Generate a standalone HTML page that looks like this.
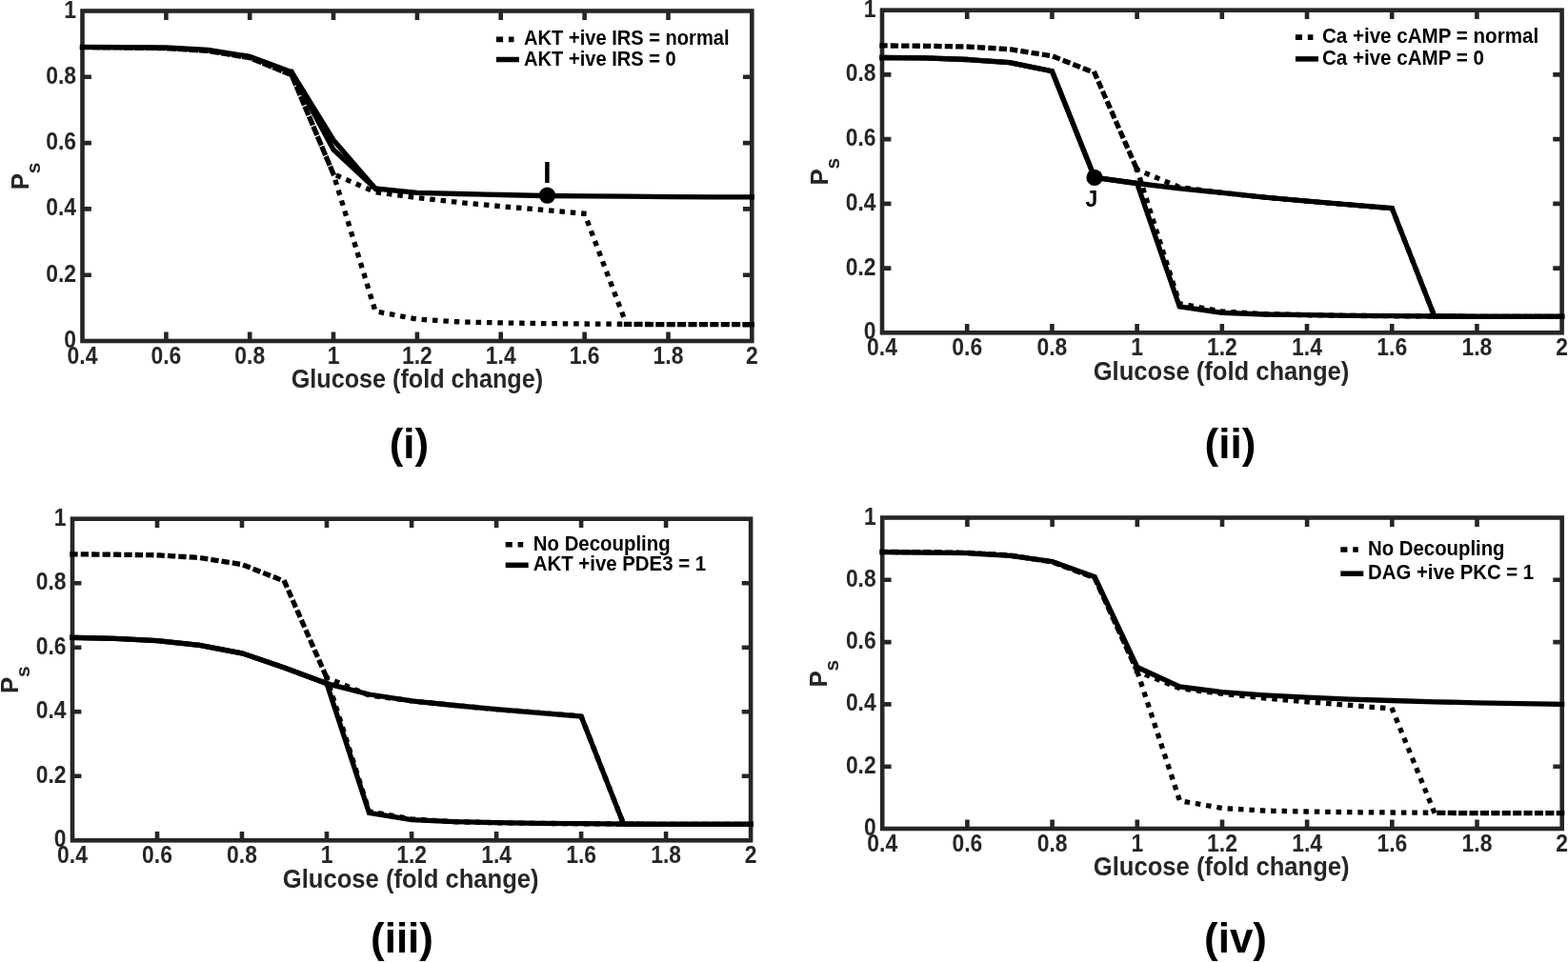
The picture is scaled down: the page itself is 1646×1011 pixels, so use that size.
<!DOCTYPE html>
<html><head><meta charset="utf-8"><title>Figure</title>
<style>
html,body{margin:0;padding:0;background:#fff;}
svg{display:block;}
text{font-family:"Liberation Sans", Arial, sans-serif;font-weight:bold;}
.tk{font-size:22.9px;fill:#262626;}
.xl{font-size:25.2px;fill:#262626;}
.yl{font-size:25.9px;fill:#262626;}
.sub{font-size:21px;fill:#262626;}
.lg{font-size:20.4px;fill:#000;}
.mk{fill:#000;}
.pl{font-size:44px;fill:#000;}
.ln{fill:none;stroke:#000;stroke-width:5.3;stroke-linecap:square;stroke-linejoin:miter;stroke-miterlimit:10;}
</style></head><body>
<svg width="1646" height="1011" viewBox="0 0 1646 1011">
<rect width="1646" height="1011" fill="#fff"/>
<rect x="86.5" y="11.5" width="702.8" height="346.5" fill="none" stroke="#262626" stroke-width="4.6"/>
<path d="M174.4 358.0V348.6M174.4 11.5V20.9M262.2 358.0V348.6M262.2 11.5V20.9M350.0 358.0V348.6M350.0 11.5V20.9M437.9 358.0V348.6M437.9 11.5V20.9M525.7 358.0V348.6M525.7 11.5V20.9M613.6 358.0V348.6M613.6 11.5V20.9M701.5 358.0V348.6M701.5 11.5V20.9M86.5 288.7H95.9M789.3 288.7H779.9M86.5 219.4H95.9M789.3 219.4H779.9M86.5 150.1H95.9M789.3 150.1H779.9M86.5 80.8H95.9M789.3 80.8H779.9" stroke="#262626" stroke-width="4.6" fill="none"/>
<text transform="translate(86.5 382.0) scale(1 1.1)" text-anchor="middle" class="tk">0.4</text>
<text transform="translate(174.4 382.0) scale(1 1.1)" text-anchor="middle" class="tk">0.6</text>
<text transform="translate(262.2 382.0) scale(1 1.1)" text-anchor="middle" class="tk">0.8</text>
<text transform="translate(350.0 382.0) scale(1 1.1)" text-anchor="middle" class="tk">1</text>
<text transform="translate(437.9 382.0) scale(1 1.1)" text-anchor="middle" class="tk">1.2</text>
<text transform="translate(525.7 382.0) scale(1 1.1)" text-anchor="middle" class="tk">1.4</text>
<text transform="translate(613.6 382.0) scale(1 1.1)" text-anchor="middle" class="tk">1.6</text>
<text transform="translate(701.5 382.0) scale(1 1.1)" text-anchor="middle" class="tk">1.8</text>
<text transform="translate(789.3 382.0) scale(1 1.1)" text-anchor="middle" class="tk">2</text>
<text transform="translate(80.0 365.0) scale(1 1.1)" text-anchor="end" class="tk">0</text>
<text transform="translate(80.0 295.7) scale(1 1.1)" text-anchor="end" class="tk">0.2</text>
<text transform="translate(80.0 226.4) scale(1 1.1)" text-anchor="end" class="tk">0.4</text>
<text transform="translate(80.0 157.1) scale(1 1.1)" text-anchor="end" class="tk">0.6</text>
<text transform="translate(80.0 87.8) scale(1 1.1)" text-anchor="end" class="tk">0.8</text>
<text transform="translate(80.0 18.5) scale(1 1.1)" text-anchor="end" class="tk">1</text>
<text transform="translate(437.9 407.4) scale(1 1.097)" text-anchor="middle" class="xl" style="font-size:25.2px">Glucose (fold change)</text>
<text transform="translate(29.9 199.3) rotate(-90)" class="yl">P</text>
<text transform="translate(41.9 182.3) rotate(-90)" class="sub">s</text>
<polyline points="86.5,49.6 130.4,50.0 174.3,50.7 218.3,53.4 262.2,60.7 306.1,78.7 350.0,182.7" class="ln" stroke-dasharray="5 6.4" stroke-dashoffset="0"/>
<polyline points="350.0,182.7 394.0,201.7 437.9,207.6 481.8,212.5 525.7,216.6 569.7,220.4 613.6,224.3 657.5,340.3" class="ln" stroke-dasharray="0.2 11.2" stroke-dashoffset="5.7"/>
<polyline points="350.0,182.7 394.0,326.8 437.9,335.1 481.8,337.9 525.7,338.9 569.7,339.6 613.6,340.0 657.5,340.3" class="ln" stroke-dasharray="0.2 11.2" stroke-dashoffset="2.45"/>
<polyline points="789.3,340.7 745.4,340.7 701.4,340.7 657.5,340.3" class="ln" stroke-dasharray="3.8 7.6" stroke-dashoffset="8.05"/>
<polyline points="782.3,340.7 789.3,340.7" class="ln"/>
<polyline points="86.5,49.3 130.4,49.6 174.3,50.0 218.3,52.4 262.2,59.3 306.1,75.6 350.0,147.0 394.0,197.9 437.9,202.4 481.8,203.5 525.7,204.5 569.7,205.5 613.6,205.9 657.5,206.2 701.4,206.6 745.4,206.9 789.3,206.9" class="ln"/>
<polyline points="306.1,75.6 350.0,157.0 394.0,197.9" class="ln"/>
<circle cx="574.5" cy="205.1" r="8.7" fill="#000"/>
<text transform="translate(574.4 192.0)" text-anchor="middle" class="mk" style="font-size:31.5px">I</text>
<path d="M521.0 41.4h7.1M533.9 41.4h5.6" stroke="#000" stroke-width="5.6"/>
<path d="M521.0 62.5h24" stroke="#000" stroke-width="5.5"/>
<text transform="translate(550.1 47.0) scale(1 1.08)" class="lg" style="font-size:20.1px">AKT +ive IRS = normal</text>
<text transform="translate(550.1 68.5) scale(1 1.08)" class="lg" style="font-size:20.1px">AKT +ive IRS = 0</text>
<rect x="926.0" y="10.7" width="713.6" height="338.6" fill="none" stroke="#262626" stroke-width="4.6"/>
<path d="M1015.2 349.3V339.9M1015.2 10.7V20.1M1104.4 349.3V339.9M1104.4 10.7V20.1M1193.6 349.3V339.9M1193.6 10.7V20.1M1282.8 349.3V339.9M1282.8 10.7V20.1M1372.0 349.3V339.9M1372.0 10.7V20.1M1461.2 349.3V339.9M1461.2 10.7V20.1M1550.4 349.3V339.9M1550.4 10.7V20.1M926.0 281.6H935.4M1639.6 281.6H1630.2M926.0 213.9H935.4M1639.6 213.9H1630.2M926.0 146.1H935.4M1639.6 146.1H1630.2M926.0 78.4H935.4M1639.6 78.4H1630.2" stroke="#262626" stroke-width="4.6" fill="none"/>
<text transform="translate(926.0 373.3) scale(1 1.1)" text-anchor="middle" class="tk">0.4</text>
<text transform="translate(1015.2 373.3) scale(1 1.1)" text-anchor="middle" class="tk">0.6</text>
<text transform="translate(1104.4 373.3) scale(1 1.1)" text-anchor="middle" class="tk">0.8</text>
<text transform="translate(1193.6 373.3) scale(1 1.1)" text-anchor="middle" class="tk">1</text>
<text transform="translate(1282.8 373.3) scale(1 1.1)" text-anchor="middle" class="tk">1.2</text>
<text transform="translate(1372.0 373.3) scale(1 1.1)" text-anchor="middle" class="tk">1.4</text>
<text transform="translate(1461.2 373.3) scale(1 1.1)" text-anchor="middle" class="tk">1.6</text>
<text transform="translate(1550.4 373.3) scale(1 1.1)" text-anchor="middle" class="tk">1.8</text>
<text transform="translate(1639.6 373.3) scale(1 1.1)" text-anchor="middle" class="tk">2</text>
<text transform="translate(919.5 356.3) scale(1 1.1)" text-anchor="end" class="tk">0</text>
<text transform="translate(919.5 288.6) scale(1 1.1)" text-anchor="end" class="tk">0.2</text>
<text transform="translate(919.5 220.9) scale(1 1.1)" text-anchor="end" class="tk">0.4</text>
<text transform="translate(919.5 153.1) scale(1 1.1)" text-anchor="end" class="tk">0.6</text>
<text transform="translate(919.5 85.4) scale(1 1.1)" text-anchor="end" class="tk">0.8</text>
<text transform="translate(919.5 17.7) scale(1 1.1)" text-anchor="end" class="tk">1</text>
<text transform="translate(1282.0 398.7) scale(1 1.097)" text-anchor="middle" class="xl" style="font-size:25.6px">Glucose (fold change)</text>
<text transform="translate(868.7 194.6) rotate(-90)" class="yl">P</text>
<text transform="translate(880.7 177.6) rotate(-90)" class="sub">s</text>
<polyline points="926.0,47.9 970.6,48.3 1015.2,49.0 1059.8,51.7 1104.4,58.8 1149.0,76.4 1193.6,178.0" class="ln" stroke-dasharray="3 8.4" stroke-dashoffset="0"/>
<polyline points="1193.6,178.0 1238.2,196.6 1282.8,202.3 1327.4,207.1 1372.0,211.2 1416.6,214.9 1461.2,218.6 1505.8,332.0" class="ln" stroke-dasharray="0.2 11.2" stroke-dashoffset="0"/>
<polyline points="1193.6,178.0 1238.2,318.8 1282.8,327.0 1327.4,329.7 1372.0,330.7 1416.6,331.4 1461.2,331.7 1505.8,332.0" class="ln" stroke-dasharray="0.2 11.2" stroke-dashoffset="0"/>
<polyline points="1639.6,332.4 1595.0,332.4 1550.4,332.4 1505.8,332.0" class="ln" stroke-dasharray="3.8 7.6" stroke-dashoffset="0"/>
<polyline points="926.0,60.5 970.6,60.8 1015.2,62.5 1059.8,65.6 1104.4,74.7 1149.0,186.4 1193.6,192.5 1238.2,197.9 1282.8,202.3 1327.4,207.1 1372.0,211.2 1416.6,214.9 1461.2,218.6 1505.8,332.0 1550.4,332.4 1595.0,332.4 1639.6,332.4" class="ln"/>
<polyline points="1639.6,332.4 1595.0,332.4 1550.4,332.4 1505.8,332.0 1461.2,331.7 1416.6,331.4 1372.0,330.7 1327.4,330.0 1282.8,328.3 1238.2,321.9 1193.6,192.5 1149.0,186.4 1104.4,74.7 1059.8,65.6 1015.2,62.5 970.6,60.8 926.0,60.5" class="ln"/>
<circle cx="1149.0" cy="186.4" r="8.6" fill="#000"/>
<text transform="translate(1146.0 217.0)" text-anchor="middle" class="mk" style="font-size:23px">J</text>
<path d="M1359.9 39.1h7.1M1372.8 39.1h5.6" stroke="#000" stroke-width="5.6"/>
<path d="M1359.9 61.9h24" stroke="#000" stroke-width="5.5"/>
<text transform="translate(1387.9 44.8) scale(1 1.08)" class="lg" style="font-size:20.6px">Ca +ive cAMP = normal</text>
<text transform="translate(1387.9 68.2) scale(1 1.08)" class="lg" style="font-size:20.6px">Ca +ive cAMP = 0</text>
<rect x="76.0" y="544.7" width="712.1" height="337.6" fill="none" stroke="#262626" stroke-width="4.6"/>
<path d="M165.0 882.3V872.9M165.0 544.7V554.1M254.0 882.3V872.9M254.0 544.7V554.1M343.0 882.3V872.9M343.0 544.7V554.1M432.1 882.3V872.9M432.1 544.7V554.1M521.1 882.3V872.9M521.1 544.7V554.1M610.1 882.3V872.9M610.1 544.7V554.1M699.1 882.3V872.9M699.1 544.7V554.1M76.0 814.8H85.4M788.1 814.8H778.7M76.0 747.3H85.4M788.1 747.3H778.7M76.0 679.7H85.4M788.1 679.7H778.7M76.0 612.2H85.4M788.1 612.2H778.7" stroke="#262626" stroke-width="4.6" fill="none"/>
<text transform="translate(76.0 906.3) scale(1 1.1)" text-anchor="middle" class="tk">0.4</text>
<text transform="translate(165.0 906.3) scale(1 1.1)" text-anchor="middle" class="tk">0.6</text>
<text transform="translate(254.0 906.3) scale(1 1.1)" text-anchor="middle" class="tk">0.8</text>
<text transform="translate(343.0 906.3) scale(1 1.1)" text-anchor="middle" class="tk">1</text>
<text transform="translate(432.1 906.3) scale(1 1.1)" text-anchor="middle" class="tk">1.2</text>
<text transform="translate(521.1 906.3) scale(1 1.1)" text-anchor="middle" class="tk">1.4</text>
<text transform="translate(610.1 906.3) scale(1 1.1)" text-anchor="middle" class="tk">1.6</text>
<text transform="translate(699.1 906.3) scale(1 1.1)" text-anchor="middle" class="tk">1.8</text>
<text transform="translate(788.1 906.3) scale(1 1.1)" text-anchor="middle" class="tk">2</text>
<text transform="translate(69.5 889.3) scale(1 1.1)" text-anchor="end" class="tk">0</text>
<text transform="translate(69.5 821.8) scale(1 1.1)" text-anchor="end" class="tk">0.2</text>
<text transform="translate(69.5 754.3) scale(1 1.1)" text-anchor="end" class="tk">0.4</text>
<text transform="translate(69.5 686.7) scale(1 1.1)" text-anchor="end" class="tk">0.6</text>
<text transform="translate(69.5 619.2) scale(1 1.1)" text-anchor="end" class="tk">0.8</text>
<text transform="translate(69.5 551.7) scale(1 1.1)" text-anchor="end" class="tk">1</text>
<text transform="translate(431.2 931.7) scale(1 1.097)" text-anchor="middle" class="xl" style="font-size:25.6px">Glucose (fold change)</text>
<text transform="translate(19.1 728.1) rotate(-90)" class="yl">P</text>
<text transform="translate(31.1 711.1) rotate(-90)" class="sub">s</text>
<polyline points="76.0,581.8 120.5,582.2 165.0,582.8 209.5,585.5 254.0,592.6 298.5,610.2 343.0,711.5" class="ln" stroke-dasharray="3 8.4" stroke-dashoffset="0"/>
<polyline points="343.0,711.5 387.5,730.0 432.0,735.8 476.6,740.5 521.1,744.6 565.6,748.3 610.1,752.0 654.6,865.1" class="ln" stroke-dasharray="0.2 11.2" stroke-dashoffset="0"/>
<polyline points="343.0,711.5 387.5,851.9 432.0,860.0 476.6,862.7 521.1,863.7 565.6,864.4 610.1,864.7 654.6,865.1" class="ln" stroke-dasharray="0.2 11.2" stroke-dashoffset="0"/>
<polyline points="788.1,865.4 743.6,865.4 699.1,865.4 654.6,865.1" class="ln" stroke-dasharray="3.8 7.6" stroke-dashoffset="0"/>
<polyline points="76.0,669.3 120.5,670.3 165.0,672.7 209.5,677.4 254.0,685.8 298.5,701.0 343.0,717.6 387.5,729.0 432.0,735.8 476.6,740.5 521.1,744.6 565.6,748.3 610.1,752.0 654.6,865.1 699.1,865.4 743.6,865.4 788.1,865.4" class="ln"/>
<polyline points="788.1,865.4 743.6,865.4 699.1,865.4 654.6,865.1 610.1,864.7 565.6,864.4 521.1,863.7 476.6,862.7 432.0,860.7 387.5,853.3 343.0,717.6 298.5,701.0 254.0,685.8 209.5,677.4 165.0,672.7 120.5,670.3 76.0,669.3" class="ln"/>
<path d="M530.7 571.8h7.1M543.6 571.8h5.6" stroke="#000" stroke-width="5.6"/>
<path d="M530.7 593.3h24" stroke="#000" stroke-width="5.5"/>
<text transform="translate(559.8 577.7) scale(1 1.08)" class="lg" style="font-size:20.4px">No Decoupling</text>
<text transform="translate(559.8 598.8) scale(1 1.08)" class="lg" style="font-size:20.4px">AKT +ive PDE3 = 1</text>
<rect x="926.2" y="543.5" width="713.5" height="326.5" fill="none" stroke="#262626" stroke-width="4.6"/>
<path d="M1015.4 870.0V860.6M1015.4 543.5V552.9M1104.6 870.0V860.6M1104.6 543.5V552.9M1193.8 870.0V860.6M1193.8 543.5V552.9M1283.0 870.0V860.6M1283.0 543.5V552.9M1372.1 870.0V860.6M1372.1 543.5V552.9M1461.3 870.0V860.6M1461.3 543.5V552.9M1550.5 870.0V860.6M1550.5 543.5V552.9M926.2 804.7H935.6M1639.7 804.7H1630.3M926.2 739.4H935.6M1639.7 739.4H1630.3M926.2 674.1H935.6M1639.7 674.1H1630.3M926.2 608.8H935.6M1639.7 608.8H1630.3" stroke="#262626" stroke-width="4.6" fill="none"/>
<text transform="translate(926.2 894.0) scale(1 1.1)" text-anchor="middle" class="tk">0.4</text>
<text transform="translate(1015.4 894.0) scale(1 1.1)" text-anchor="middle" class="tk">0.6</text>
<text transform="translate(1104.6 894.0) scale(1 1.1)" text-anchor="middle" class="tk">0.8</text>
<text transform="translate(1193.8 894.0) scale(1 1.1)" text-anchor="middle" class="tk">1</text>
<text transform="translate(1283.0 894.0) scale(1 1.1)" text-anchor="middle" class="tk">1.2</text>
<text transform="translate(1372.1 894.0) scale(1 1.1)" text-anchor="middle" class="tk">1.4</text>
<text transform="translate(1461.3 894.0) scale(1 1.1)" text-anchor="middle" class="tk">1.6</text>
<text transform="translate(1550.5 894.0) scale(1 1.1)" text-anchor="middle" class="tk">1.8</text>
<text transform="translate(1639.7 894.0) scale(1 1.1)" text-anchor="middle" class="tk">2</text>
<text transform="translate(919.7 877.0) scale(1 1.1)" text-anchor="end" class="tk">0</text>
<text transform="translate(919.7 811.7) scale(1 1.1)" text-anchor="end" class="tk">0.2</text>
<text transform="translate(919.7 746.4) scale(1 1.1)" text-anchor="end" class="tk">0.4</text>
<text transform="translate(919.7 681.1) scale(1 1.1)" text-anchor="end" class="tk">0.6</text>
<text transform="translate(919.7 615.8) scale(1 1.1)" text-anchor="end" class="tk">0.8</text>
<text transform="translate(919.7 550.5) scale(1 1.1)" text-anchor="end" class="tk">1</text>
<text transform="translate(1282.2 919.4) scale(1 1.097)" text-anchor="middle" class="xl" style="font-size:25.6px">Glucose (fold change)</text>
<text transform="translate(868.1 721.4) rotate(-90)" class="yl">P</text>
<text transform="translate(880.1 704.4) rotate(-90)" class="sub">s</text>
<polyline points="926.2,579.4 970.8,579.7 1015.4,580.4 1060.0,583.0 1104.6,589.9 1149.2,606.8 1193.8,704.8" class="ln" stroke-dasharray="3 8.4" stroke-dashoffset="0"/>
<polyline points="1193.8,704.8 1238.4,722.7 1283.0,728.3 1327.5,732.9 1372.1,736.8 1416.7,740.4 1461.3,744.0 1505.9,853.3" class="ln" stroke-dasharray="0.2 11.2" stroke-dashoffset="0"/>
<polyline points="1193.8,704.8 1238.4,840.6 1283.0,848.5 1327.5,851.1 1372.1,852.0 1416.7,852.7 1461.3,853.0 1505.9,853.3" class="ln" stroke-dasharray="0.2 11.2" stroke-dashoffset="8.7"/>
<polyline points="1639.7,853.7 1595.1,853.7 1550.5,853.7 1505.9,853.3" class="ln" stroke-dasharray="3.8 7.6" stroke-dashoffset="0.45"/>
<polyline points="926.2,579.7 970.8,580.1 1015.4,580.7 1060.0,583.3 1104.6,589.5 1149.2,605.5 1193.8,700.5 1238.4,720.8 1283.0,726.7 1327.5,729.9 1372.1,732.2 1416.7,734.2 1461.3,735.5 1505.9,736.8 1550.5,737.8 1595.1,738.7 1639.7,739.4" class="ln"/>
<path d="M1407.3 577.0h7.1M1420.2 577.0h5.6" stroke="#000" stroke-width="5.6"/>
<path d="M1407.3 602.2h24" stroke="#000" stroke-width="5.5"/>
<text transform="translate(1436.1 582.6) scale(1 1.08)" class="lg" style="font-size:20.35px">No Decoupling</text>
<text transform="translate(1436.1 607.9) scale(1 1.08)" class="lg" style="font-size:20.35px">DAG +ive PKC = 1</text>
<text transform="translate(429.4 481.0) scale(1 1.011)" text-anchor="middle" class="pl">(i)</text>
<text transform="translate(1291.4 481.0) scale(1 1.011)" text-anchor="middle" class="pl">(ii)</text>
<text transform="translate(422.0 1000.1) scale(1 1.011)" text-anchor="middle" class="pl">(iii)</text>
<text transform="translate(1297.0 1000.1) scale(1 1.011)" text-anchor="middle" class="pl">(iv)</text>
</svg>
</body></html>
